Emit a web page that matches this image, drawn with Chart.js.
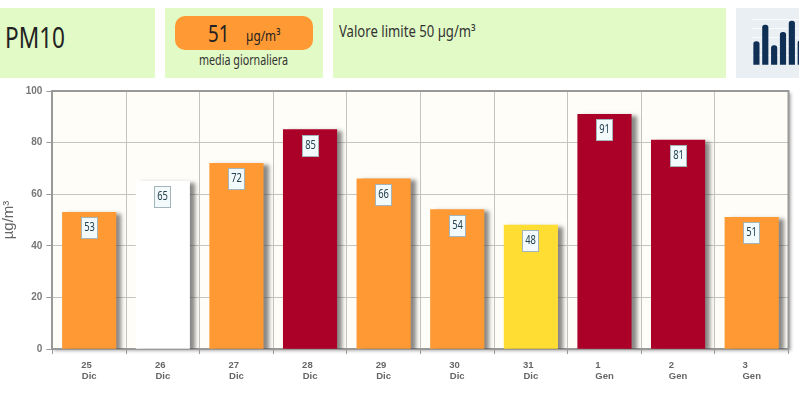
<!DOCTYPE html>
<html>
<head>
    <title>PM10</title>
    <meta charset="UTF-8">
    <style>
        body { margin: 0; background: #fff; overflow: hidden; font-family: "Noto Sans", sans-serif; color: #222; }
        .panel { position: absolute; top: 8px; height: 70px; background: #e2fac6; }
        .txt { position: absolute; white-space: nowrap; line-height: 1; transform-origin: left top; }
        #pill { position: absolute; left: 175px; top: 16px; width: 138px; height: 34px; border-radius: 10px; background: #ff9933; }
        #main { position: absolute; left: 0; top: 0; }
    </style>
</head>
<body>

<div class="panel" style="left:0;width:155px"></div>
<div class="panel" style="left:165px;width:158px"></div>
<div class="panel" style="left:333px;width:393px"></div>
<div class="panel" style="left:736px;width:63px;background:#e9eff3;overflow:hidden">
    <canvas id="icon" width="71" height="46" style="position:absolute;left:7px;top:11px"></canvas>
</div>
<div id="pill"></div>
<div class="txt" data-w="60" style="left:5px;top:22px;font-size:29px">PM10</div>
<div class="txt" data-w="21" style="left:208px;top:21px;font-size:24px">51</div>
<div class="txt" data-w="34" style="left:246px;top:28px;font-size:15px">µg/m³</div>
<div class="txt" data-w="89" style="left:199px;top:53px;font-size:14px;color:#333">media giornaliera</div>
<div class="txt" data-w="137" style="left:339px;top:23px;font-size:16px;color:#333">Valore limite 50 µg/m³</div>

<canvas id="main" width="799" height="393"></canvas>

<script src="https://cdn.jsdelivr.net/npm/chart.js"></script>
<script>
    var days = ["25", "26", "27", "28", "29", "30", "31", "1", "2", "3"];
    var months = ["Dic", "Dic", "Dic", "Dic", "Dic", "Dic", "Dic", "Gen", "Gen", "Gen"];
    var pm10_values = [53, 65, 72, 85, 66, 54, 48, 91, 81, 51];
    var bar_colors = ["#ff9933", "#ffffff", "#ff9933", "#ab0028", "#ff9933", "#ff9933", "#ffdd33", "#ab0028", "#ab0028", "#ff9933"];
    var y_ticks = [0, 20, 40, 60, 80, 100];
    var icon_values = [23, 39, 19, 32, 43, 24, 20];

    // day sits left aligned over the month, pad it with nbsp so the centred line starts at the same x
    var labels = days.map(function (d, i) {
        return [d + "\u00a0".repeat(d.length == 1 ? 5 : 2), months[i]];
    });

    // the page font is too wide, squeeze each text to its width
    document.querySelectorAll(".txt").forEach(function (el) {
        el.style.transform = "scaleX(" + (el.dataset.w / el.offsetWidth) + ")";
    });

    // plot background, behind everything
    const plot_background = {
        id: "plot_background",
        beforeDraw(chart) {
            const a = chart.chartArea, ctx = chart.ctx;
            ctx.save();
            ctx.fillStyle = "#fffdf7";
            ctx.shadowColor = "rgba(0,0,0,0.3)";
            ctx.shadowBlur = 3;
            ctx.shadowOffsetX = 2;
            ctx.shadowOffsetY = 2;
            ctx.fillRect(a.left, a.top, a.right - a.left, a.bottom - a.top);
            ctx.restore();
        },
        // top and right edge of the frame
        afterDraw(chart) {
            const a = chart.chartArea, ctx = chart.ctx;
            ctx.save();
            ctx.strokeStyle = "#999999";
            ctx.lineWidth = 2;
            ctx.beginPath();
            ctx.moveTo(a.left, a.top);
            ctx.lineTo(a.right, a.top);
            ctx.lineTo(a.right, a.bottom);
            ctx.stroke();
            ctx.restore();
        }
    };

    // bar drop shadow
    const bar_shadow = {
        id: "bar_shadow",
        beforeDatasetsDraw(chart) {
            const ctx = chart.ctx;
            ctx.save();
            ctx.shadowColor = "rgba(60,60,60,0.6)";
            ctx.shadowBlur = 4;
            ctx.shadowOffsetX = 5;
            ctx.shadowOffsetY = 2;
        },
        afterDatasetsDraw(chart) {
            chart.ctx.restore();
        }
    };

    // value boxes inside the bars
    const value_boxes = {
        id: "value_boxes",
        afterDraw(chart) {
            const ctx = chart.ctx;
            const meta = chart.getDatasetMeta(0);
            ctx.save();
            ctx.font = "12px 'Noto Sans'";
            ctx.textAlign = "center";
            ctx.textBaseline = "middle";
            meta.data.forEach(function (bar, i) {
                const w = 17, h = 22, left = Math.round(bar.x - w / 2), top = Math.round(bar.y + 5);
                ctx.fillStyle = "#f3fafb";
                ctx.strokeStyle = "#a3b5bb";
                ctx.lineWidth = 1;
                ctx.fillRect(left, top, w, h);
                ctx.strokeRect(left + 0.5, top + 0.5, w - 1, h - 1);
                ctx.fillStyle = "#23424f";
                ctx.save();
                ctx.translate(left + w / 2, top + h / 2);
                ctx.scale(0.78, 1);
                ctx.fillText(pm10_values[i], 0, 0);
                ctx.restore();
            });
            ctx.restore();
        }
    };

    new Chart(document.getElementById("main"), {
        type: "bar",
        data: {
            labels: labels,
            datasets: [{
                data: pm10_values,
                backgroundColor: bar_colors,
                barThickness: 53.5
            }]
        },
        options: {
            responsive: false,
            animation: false,
            layout: { padding: { top: 91, right: 10.5, left: 0, bottom: 0 } },
            plugins: { legend: { display: false }, tooltip: { enabled: false } },
            scales: {
                x: {
                    afterFit(scale) { scale.height = 44; },
                    grid: { color: "#c4c4c0", tickColor: "#999999", tickLength: 5, offset: true },
                    border: { color: "#999999", width: 2 },
                    ticks: { color: "#666666", font: { family: "Liberation Sans", size: 9.5, weight: "bold", lineHeight: 1.15 }, padding: 6, maxRotation: 0 }
                },
                y: {
                    min: 0,
                    max: 100,
                    afterBuildTicks(scale) { scale.ticks = y_ticks.map(function (v) { return { value: v }; }); },
                    afterFit(scale) { scale.width = 52.4; },
                    grid: { color: "#c4c4c0", tickColor: "#999999", tickLength: 6 },
                    border: { color: "#999999", width: 2 },
                    ticks: { color: "#777777", font: { family: "Liberation Sans", size: 10, weight: "bold" }, padding: 4 },
                    title: { display: true, text: "µg/m³", color: "#666666", font: { family: "Liberation Sans", size: 15 }, padding: { top: 0, bottom: 2 } }
                }
            }
        },
        plugins: [plot_background, bar_shadow, value_boxes]
    });

    new Chart(document.getElementById("icon"), {
        type: "bar",
        data: {
            labels: icon_values.map(function (v, i) { return i; }),
            datasets: [{ data: icon_values, backgroundColor: "#0f2f55", barThickness: 5.5, borderRadius: { topLeft: 3, topRight: 3 }, borderSkipped: "bottom" }]
        },
        options: {
            responsive: false,
            animation: false,
            layout: { padding: { left: 9 } },
            plugins: { legend: { display: false }, tooltip: { enabled: false } },
            scales: {
                x: { display: false },
                y: {
                    min: 0, max: 45, display: true,
                    afterFit(scale) { scale.width = 0; },
                    ticks: { display: false, stepSize: 9 },
                    grid: { color: "#f8fafb", drawTicks: false },
                    border: { display: false }
                }
            }
        }
    });
</script>
</body>
</html>
